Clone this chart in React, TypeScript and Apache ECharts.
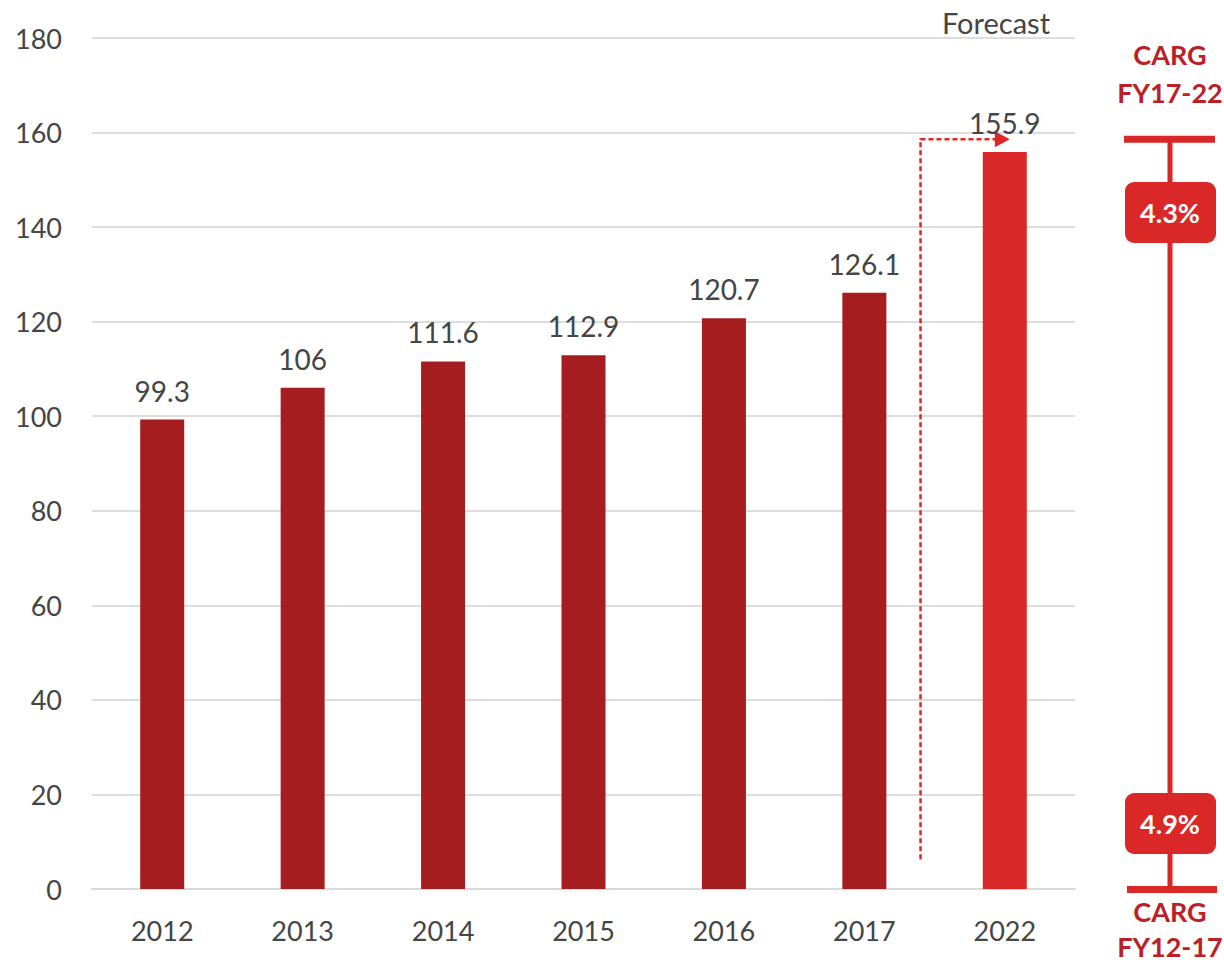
import React, { useEffect, useRef } from "react";
import * as echarts from "echarts";

const years = ["2012", "2013", "2014", "2015", "2016", "2017", "2022"];
const values = [99.3, 106, 111.6, 112.9, 120.7, 126.1, 155.9];
const isForecast = [false, false, false, false, false, false, true];
const yTicks = { min: 0, max: 180, interval: 20 };
const cagrTop = { label: ["CARG", "FY17-22"], value: "4.3%" };
const cagrBottom = { label: ["CARG", "FY12-17"], value: "4.9%" };
const forecastLabel = "Forecast";

const FONT = "Lato, 'Noto Sans', sans-serif";
const DARK = "#A51D1F";
const BRIGHT = "#D92827";
const TEXT = "#454545";
const LABEL_RED = "#BC2027";

export default function App() {
  const ref = useRef<HTMLDivElement>(null);
  useEffect(() => {
    if (!ref.current) return;
    const chart = echarts.init(ref.current, null, { renderer: "svg" });
    chart.setOption({
      animation: false,
      backgroundColor: "#ffffff",
      grid: { left: 92, right: 149, top: 38, bottom: 75 },
      xAxis: {
        type: "category",
        data: years,
        axisLine: { show: true, lineStyle: { color: "#D9D9D9", width: 2 } },
        axisTick: { show: false },
        axisLabel: { color: TEXT, fontSize: 27, fontFamily: FONT, margin: 28 },
      },
      yAxis: {
        type: "value",
        min: yTicks.min,
        max: yTicks.max,
        interval: yTicks.interval,
        axisLine: { show: false },
        axisTick: { show: false },
        splitLine: { lineStyle: { color: "#DDDDDD", width: 2 } },
        axisLabel: { color: TEXT, fontSize: 27, fontFamily: FONT, margin: 30 },
      },
      series: [
        {
          type: "bar",
          barWidth: 44,
          data: values.map((v, i) => ({
            value: v,
            itemStyle: { color: isForecast[i] ? BRIGHT : DARK },
          })),
          label: {
            show: true,
            position: "top",
            distance: 15,
            color: TEXT,
            fontSize: 28,
            fontFamily: FONT,
          },
        },
      ],
    });

    const px = (cat: string) => chart.convertToPixel({ xAxisIndex: 0 }, cat) as number;
    const py = (v: number) => chart.convertToPixel({ yAxisIndex: 0 }, v) as number;
    const x17 = px("2017");
    const x22 = px("2022");
    const dashX = x17 + 0.4 * (x22 - x17);
    const arrowY = py(158.6);
    const dashBottom = py(6.3);
    const arrowTip = x22 + 5;

    const capTop = py(158.6);
    const capBottom = py(0);
    const bx = 1170;

    const box = (cy: number, txt: string) => [
      {
        type: "rect",
        shape: { x: 1125, y: cy - 30, width: 91, height: 61, r: 9 },
        style: { fill: BRIGHT },
        z: 10,
      },
      {
        type: "text",
        x: bx,
        y: cy,
        style: {
          text: txt,
          fill: "#ffffff",
          font: `bold 27px ${FONT}`,
          align: "center",
          verticalAlign: "middle",
        },
        z: 11,
      },
    ];
    const label = (cy: number, txt: string) => ({
      type: "text",
      x: bx,
      y: cy,
      style: {
        text: txt,
        fill: LABEL_RED,
        font: `bold 27px ${FONT}`,
        align: "center",
        verticalAlign: "middle",
      },
    });

    chart.setOption({
      graphic: [
        {
          type: "polyline",
          shape: { points: [[dashX, dashBottom], [dashX, arrowY], [arrowTip - 14, arrowY]] },
          style: { stroke: BRIGHT, lineWidth: 2.5, lineDash: [5, 3], fill: null },
        },
        {
          type: "polygon",
          shape: { points: [[arrowTip - 15, arrowY - 8], [arrowTip, arrowY], [arrowTip - 15, arrowY + 8]] },
          style: { fill: BRIGHT },
        },
        {
          type: "text",
          x: 996,
          y: 22,
          style: {
            text: forecastLabel,
            fill: TEXT,
            font: `29px ${FONT}`,
            align: "center",
            verticalAlign: "middle",
          },
        },
        {
          type: "rect",
          shape: { x: bx - 2.5, y: capTop, width: 5, height: capBottom - capTop },
          style: { fill: BRIGHT },
        },
        {
          type: "rect",
          shape: { x: 1124, y: capTop - 3.5, width: 91, height: 7 },
          style: { fill: BRIGHT },
        },
        {
          type: "rect",
          shape: { x: 1127, y: capBottom - 3, width: 90, height: 7 },
          style: { fill: BRIGHT },
        },
        ...box(212, cagrTop.value),
        ...box(823, cagrBottom.value),
        label(54, cagrTop.label[0]),
        label(92, cagrTop.label[1]),
        label(911, cagrBottom.label[0]),
        label(946, cagrBottom.label[1]),
      ],
    });

    return () => chart.dispose();
  }, []);
  return (
    <div
      ref={ref}
      style={{ position: "absolute", left: 0, top: 0, width: 1224, height: 964 }}
    />
  );
}
